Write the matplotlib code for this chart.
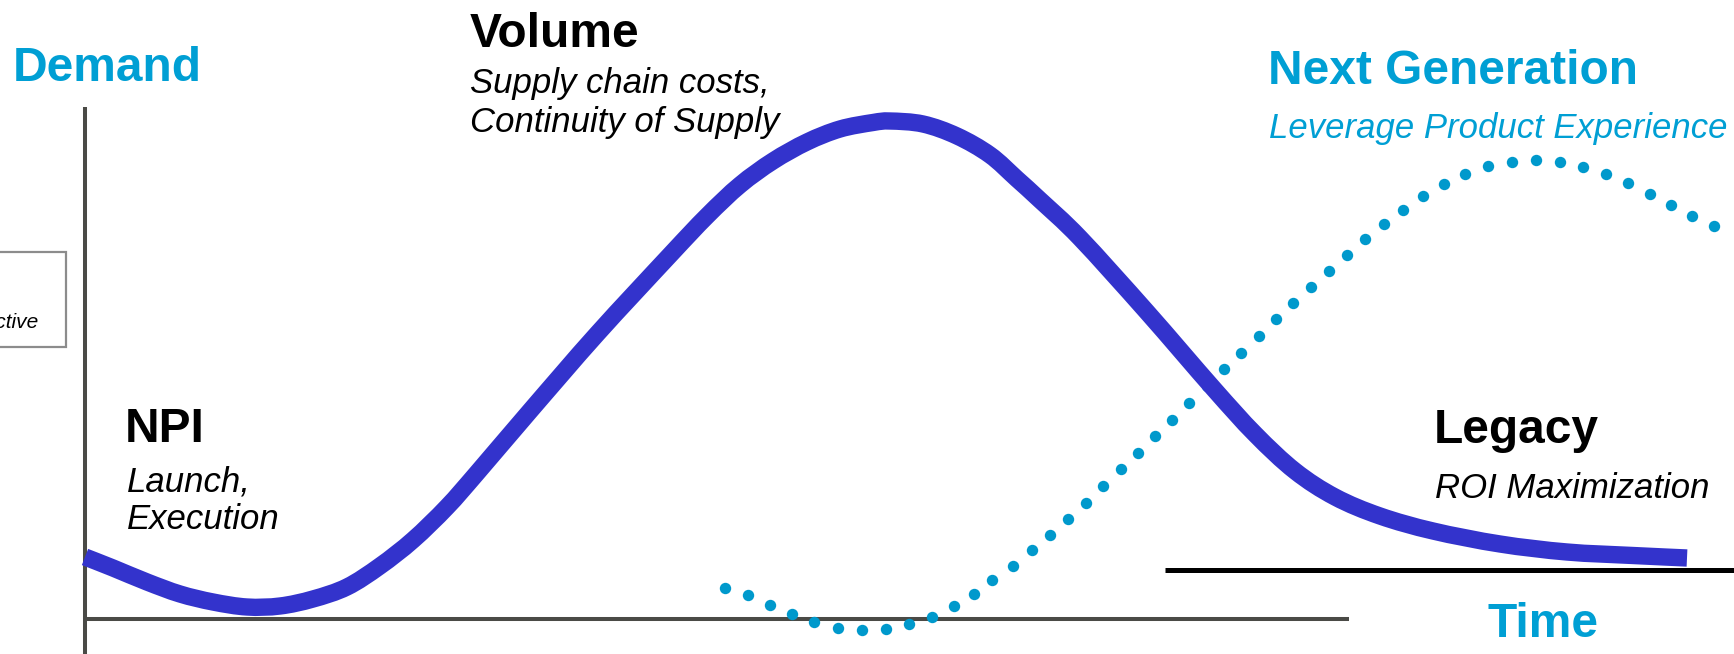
import matplotlib
matplotlib.use("Agg")
import matplotlib.pyplot as plt
from matplotlib.patches import Rectangle, PathPatch
from matplotlib.path import Path

plt.rcParams['font.family'] = ['Liberation Sans', 'DejaVu Sans']

# ---- data (time units, demand units) ----
current_t = [0, 2.8, 6.2, 9.5, 12.8, 16.2, 19.5, 22.8, 26.2, 29.5, 32.8, 36.2, 39.2,
             44.5, 51.2, 58.5, 62.2, 65.5, 68.8, 72.2, 75.5, 78.8, 80.5, 83.8, 87.2,
             90.5, 93.2, 95.5, 99.5, 106.2, 112.8, 117.0, 121.0, 125.0, 129.5, 134.8,
             141.5, 148.2, 154.8, 160.2]
current_d = [6.2, 5.1, 3.7, 2.5, 1.7, 1.2, 1.3, 2.0, 3.2, 5.3, 7.9, 11.2, 14.6,
             20.8, 28.5, 36.4, 40.3, 43.4, 45.8, 47.7, 49.0, 49.65, 49.8, 49.5, 48.3,
             46.4, 44.0, 41.9, 38.1, 30.7, 23.1, 18.5, 14.8, 12.2, 10.3, 8.8,
             7.5, 6.7, 6.35, 6.1]

next_t = [64.0, 66.3, 68.5, 70.7, 72.9, 75.3, 77.7, 80.1, 82.4, 84.7, 86.9, 88.9, 90.7,
          92.8, 94.7, 96.5, 98.3, 100.1, 101.8, 103.6, 105.3, 107.0, 108.7, 110.4,
          112.2, 113.9, 115.6, 117.4, 119.1, 120.8, 122.6, 124.4, 126.2, 128.0, 129.9,
          131.8, 133.8, 135.9, 138.0, 140.3, 142.7, 145.1, 147.5, 149.8, 152.1, 154.3,
          156.5, 158.6, 160.7, 162.9]
next_d = [3.1, 2.4, 1.4, 0.5, -0.3, -0.9, -1.1, -1.0, -0.5, 0.2, 1.3, 2.5, 3.9,
          5.3, 6.9, 8.4, 10.0, 11.6, 13.3, 15.0, 16.6, 18.3, 19.9, 21.6,
          23.3, 25.0, 26.6, 28.3, 30.0, 31.6, 33.2, 34.8, 36.4, 38.0, 39.5,
          40.9, 42.3, 43.5, 44.5, 45.3, 45.7, 45.9, 45.7, 45.2, 44.5, 43.6,
          42.5, 41.4, 40.3, 39.3]

legacy_floor_t = [108.0, 164.9]
legacy_floor_d = [4.9, 4.9]

W, H = 1734, 654
fig = plt.figure(figsize=(W / 100, H / 100), dpi=100)
ax = fig.add_axes([0, 0, 1, 1])
ax.set_xlim(-8.5, 164.9)
ax.set_ylim(-3.5, 61.9)
ax.axis('off')

AXIS_COL = '#4a4a46'
BLUE_TXT = '#009FD4'
DOT_COL = '#0099CC'
CURVE_COL = '#3333CC'

# axes lines
ax.plot([0, 0], [-3.5, 51.2], color=AXIS_COL, lw=2.9, solid_capstyle='butt', zorder=1)
ax.plot([0, 126.4], [0, 0], color=AXIS_COL, lw=2.9, solid_capstyle='butt', zorder=1)
ax.plot(legacy_floor_t, legacy_floor_d, color='black', lw=3.6, solid_capstyle='butt', zorder=1)

# next generation (dotted)
ax.plot(next_t, next_d, linestyle='none', marker='o', markersize=8.2,
        markerfacecolor=DOT_COL, markeredgecolor='none', zorder=2)


# current product curve: smooth path through the read points (Catmull-Rom as Bezier)
def smooth_path(xs, ys):
    pts = list(zip(xs, ys))
    n = len(pts)
    verts = [pts[0]]
    codes = [Path.MOVETO]
    for i in range(n - 1):
        p0 = pts[i - 1] if i > 0 else pts[i]
        p1 = pts[i]
        p2 = pts[i + 1]
        p3 = pts[i + 2] if i + 2 < n else pts[i + 1]
        c1 = (p1[0] + (p2[0] - p0[0]) / 6.0, p1[1] + (p2[1] - p0[1]) / 6.0)
        c2 = (p2[0] - (p3[0] - p1[0]) / 6.0, p2[1] - (p3[1] - p1[1]) / 6.0)
        verts += [c1, c2, p2]
        codes += [Path.CURVE4] * 3
    return Path(verts, codes)


ax.add_patch(PathPatch(smooth_path(current_t, current_d), facecolor='none',
                       edgecolor=CURVE_COL, lw=12.5, capstyle='butt',
                       joinstyle='round', zorder=3))


def ftext(px, py, s, **kw):
    fig.text(px / W, 1 - py / H, s, va='baseline', **kw)


TS = 34.5
SS = 25
ftext(13, 81, 'Demand', fontsize=TS, fontweight='bold', color=BLUE_TXT)
ftext(470, 47, 'Volume', fontsize=TS, fontweight='bold', color='black')
ftext(470, 93, 'Supply chain costs,', fontsize=SS, style='italic', color='black')
ftext(470, 132, 'Continuity of Supply', fontsize=SS, style='italic', color='black')
ftext(1268, 84, 'Next Generation', fontsize=TS, fontweight='bold', color=BLUE_TXT)
ftext(1269, 138, 'Leverage Product Experience', fontsize=SS, style='italic', color=BLUE_TXT)
ftext(125, 442, 'NPI', fontsize=TS, fontweight='bold', color='black')
ftext(127, 491, 'Launch,', fontsize=SS, style='italic', color='black')
ftext(127, 529, 'Execution', fontsize=SS, style='italic', color='black')
ftext(1434, 443, 'Legacy', fontsize=TS, fontweight='bold', color='black')
ftext(1435, 498, 'ROI Maximization', fontsize=SS, style='italic', color='black')
ftext(1488, 637, 'Time', fontsize=TS, fontweight='bold', color=BLUE_TXT)

# partially visible box at left edge
fig.patches.append(Rectangle((-60 / W, 1 - 347 / H), 126 / W, 95 / H,
                             transform=fig.transFigure, fill=False,
                             edgecolor='#8c8c8c', lw=1.6))
fig.text(39 / W, 1 - 328 / H, 'Perspective', ha='right', va='baseline',
         fontsize=15, style='italic', color='black')

fig.savefig('out.png', dpi=100, facecolor='white')
